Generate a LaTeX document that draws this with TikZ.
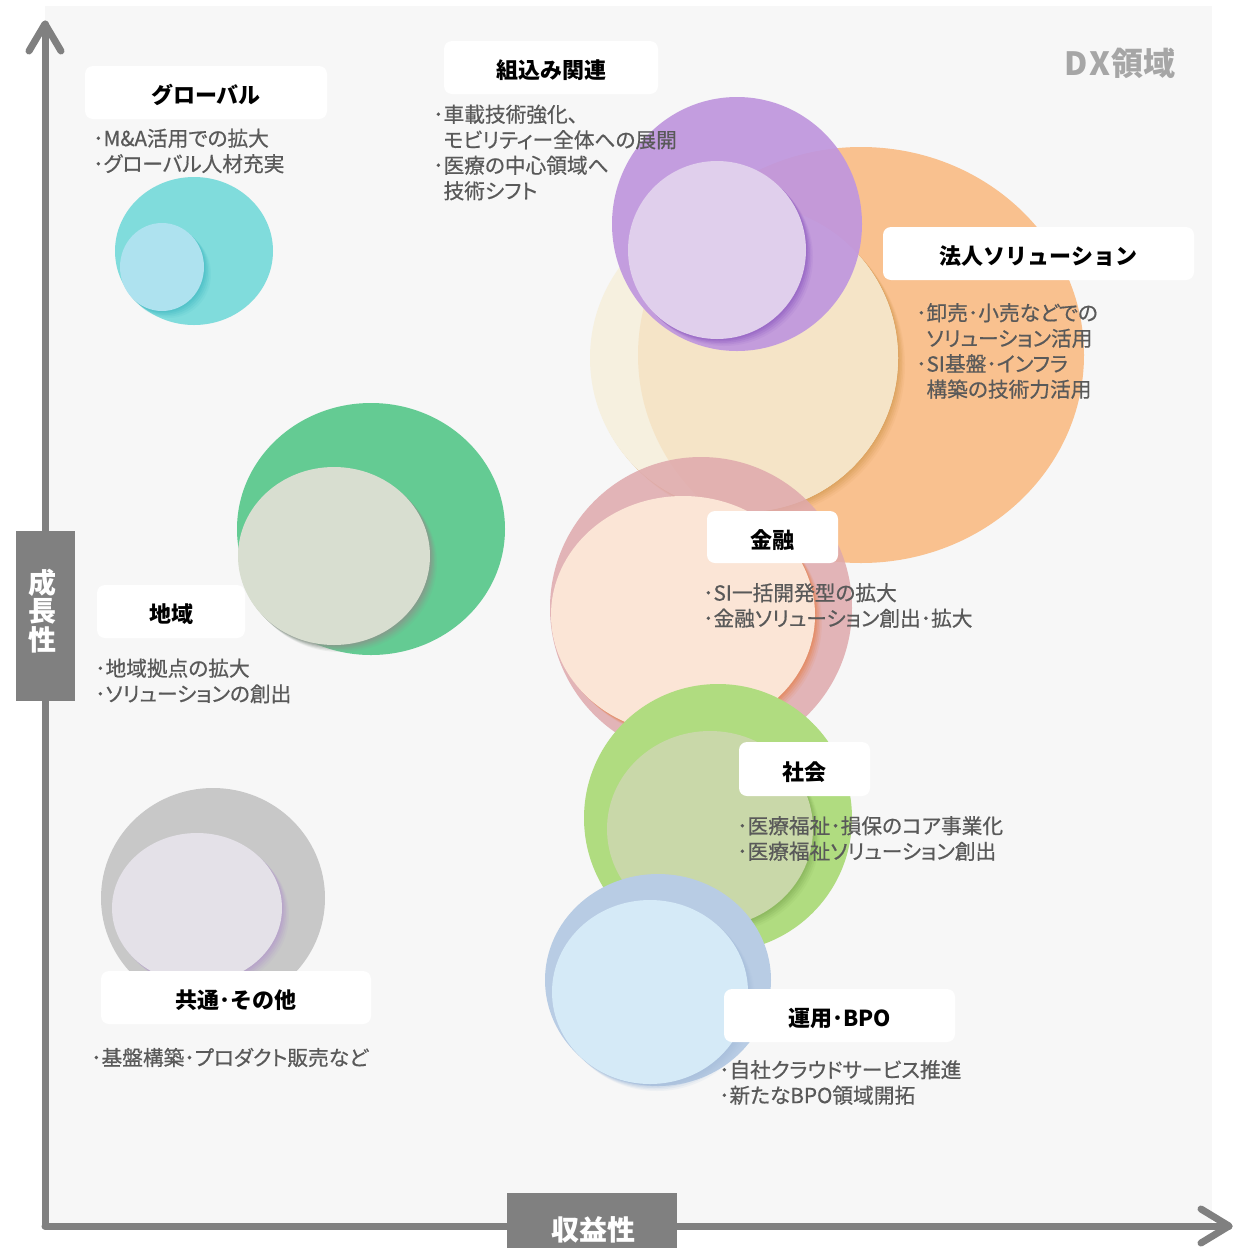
\documentclass[tikz,border=0pt]{standalone}
\usepackage{fontspec}
\setmainfont{Noto Sans CJK JP}
\newfontfamily\jpp[RawFeature=+palt, FakeBold=0.6]{Noto Sans CJK JP}
\definecolor{panel}{HTML}{F7F7F7}
\definecolor{axisgray}{HTML}{808080}
\definecolor{bodygray}{HTML}{595959}
\definecolor{dxgray}{HTML}{A6A6A6}
\definecolor{tealO}{HTML}{80DCDC}
\definecolor{tealI}{HTML}{AEE2EF}
\definecolor{tealS}{HTML}{4CBFC6}
\definecolor{purO}{HTML}{C097DE}
\definecolor{purI}{HTML}{E0CFEC}
\definecolor{purS}{HTML}{9463C4}
\definecolor{orgO}{HTML}{F9C18F}
\definecolor{creamBg}{HTML}{F6F0DF}
\definecolor{creamOr}{HTML}{F5E4C7}
\definecolor{orgS}{HTML}{D9A05A}
\definecolor{pnkO}{HTML}{DFA9AC}
\definecolor{pnkI}{HTML}{FBE5D6}
\definecolor{pnkS}{HTML}{E5875A}
\definecolor{grnO}{HTML}{B0DC80}
\definecolor{grnI}{HTML}{C9D8A9}
\definecolor{grnS}{HTML}{88B45A}
\definecolor{bluO}{HTML}{B8CCE4}
\definecolor{bluI}{HTML}{D5EAF7}
\definecolor{bluS}{HTML}{A9C0DD}
\definecolor{regO}{HTML}{64CB93}
\definecolor{regI}{HTML}{D8DED0}
\definecolor{regS}{HTML}{8A968C}
\definecolor{gryO}{HTML}{C8C8C8}
\definecolor{gryI}{HTML}{E4E1E8}
\definecolor{gryS}{HTML}{B69FCB}
% #1 outer style, #2 outer centre, #3 rx, #4 ry, #5 inner style, #6 inner centre, #7 irx, #8 iry, #9 shadow colour
\newcommand\bubbleset[9]{%
  \fill[#1] #2 ellipse[x radius=#3, y radius=#4];
  \foreach \k/\op in {7/0.12,5.5/0.18,4/0.25,2.5/0.35,1.2/0.45}{%
    \fill[#9, opacity=\op, shift={(\k,\k)}] #6 ellipse[x radius=#7, y radius=#8];}
  \fill[#5] #6 ellipse[x radius=#7, y radius=#8];
}
\tikzset{
  lbl/.style={fill=white, rounded corners=8pt, inner sep=0pt, text height=22.5pt, text depth=0pt, font=\fontsize{22}{26}\selectfont\bfseries, text=black},
  body/.style={anchor=west, align=left, inner sep=0pt, text=bodygray, font=\jpp\fontsize{20.7}{25.5}\selectfont},
  axisline/.style={draw=axisgray, line width=7pt, line cap=round, line join=round}
}
\begin{document}
\begin{tikzpicture}[x=1pt,y=-1pt]
\useasboundingbox (0,0) rectangle (1239,1248);
\fill[white] (0,0) rectangle (1239,1248);
\fill[panel] (45,6) rectangle (1212,1226);

% bubbles
% corporate solutions: orange with a translucent-looking cream disc
\bubbleset{orgO}{(861,355)}{223}{208}{creamBg}{(744,358)}{154}{154}{orgS}
\begin{scope}
  \clip (861,355) ellipse[x radius=223, y radius=208];
  \fill[creamOr] (744,358) ellipse[x radius=154, y radius=154];
\end{scope}
\bubbleset{purO, opacity=0.93}{(737,224)}{125}{127}{purI}{(717,250)}{89}{89}{purS}
\bubbleset{pnkO, opacity=0.85}{(701,608)}{151}{151}{pnkI}{(683,615)}{132}{119}{pnkS}
\bubbleset{grnO}{(718,818)}{134}{134}{grnI}{(710,829)}{103}{98}{grnS}
\bubbleset{bluO}{(658,980)}{113}{106}{bluI}{(650,992)}{98}{92}{bluS}
\bubbleset{tealO}{(194,251)}{79}{74}{tealI}{(162,267)}{42}{44}{tealS}
\bubbleset{regO}{(371,529)}{134}{126}{regI}{(334,556)}{96}{89}{regS}
\bubbleset{gryO}{(213,898)}{112}{110}{gryI}{(197,908)}{85}{75}{gryS}

% axes
\coordinate (O) at (45,1226);
\coordinate (ytip) at (45,24);
\coordinate (xtip) at (1229,1226);
\coordinate (yl) at (29,51);
\coordinate (yr) at (61,51);
\coordinate (xu) at (1201,1209);
\coordinate (xd) at (1201,1243);
\draw[axisline] (O) -- (ytip);
\draw[axisline] (yl) -- (ytip) -- (yr);
\draw[axisline] (O) -- (xtip);
\draw[axisline] (xu) -- (xtip) -- (xd);
\fill[axisgray] (16,531) rectangle (75,701);
\node[text=white, inner sep=0pt, font=\fontsize{28}{28.5}\selectfont\bfseries, align=center] (ylab) at (42,611) {成\\長\\性};
\fill[axisgray] (507,1193) rectangle (677,1248);
\node[text=white, inner sep=0pt, font=\fontsize{28}{28.5}\selectfont\bfseries] (xlab) at (593,1230) {収益性};

\node[anchor=east, inner sep=0pt, text=dxgray, font=\fontsize{32}{34}\selectfont\bfseries] (dx) at (1176,63) {D\kern1.5pt X\kern1pt 領域};

% label boxes
\node[lbl, minimum width=242pt, minimum height=53pt] (glob) at (206,92.5) {グローバル};
\node[lbl, minimum width=214pt, minimum height=53pt] (kumi) at (551,67.5) {組込み関連};
\node[lbl, minimum width=311pt, minimum height=53pt] (houjin) at (1038.5,253.5) {法人ソリューション};
\node[lbl, minimum width=131pt, minimum height=52pt] (kin) at (772.5,537) {金融};
\node[lbl, minimum width=131pt, minimum height=54pt] (shakai) at (804.5,769) {社会};
\node[lbl, minimum width=231pt, minimum height=53pt] (unyo) at (839.5,1015.5) {運用･BPO};
\node[lbl, minimum width=148pt, minimum height=53pt] (chiiki) at (171,611.5) {地域};
\node[lbl, minimum width=270pt, minimum height=53pt] (kyotsu) at (236,997.5) {共通･その他};

% body texts
\node[body] (globt) at (93,151) {･M\&A活用での拡大\\･グローバル人材充実};
\node[body] (kumit) at (433,152.5) {･車載技術強化、\\\hphantom{･}モビリティー全体への展開\\･医療の中心領域へ\\\hphantom{･}技術シフト};
\node[body] (houjint) at (916,351) {･卸売･小売などでの\\\hphantom{･}ソリューション活用\\･SI基盤･インフラ\\\hphantom{･}構築の技術力活用};
\node[body] (kint) at (703,605.5) {･SI一括開発型の拡大\\･金融ソリューション創出･拡大};
\node[body] (shakait) at (737,838.5) {･医療福祉･損保のコア事業化\\･医療福祉ソリューション創出};
\node[body] (unyot) at (719,1082.5) {･自社クラウドサービス推進\\･新たなBPO領域開拓};
\node[body] (chiikit) at (95,681) {･地域拠点の拡大\\･ソリューションの創出};
\node[body] (kyotsut) at (91,1057.5) {･基盤構築･プロダクト販売など};
\end{tikzpicture}
\end{document}
